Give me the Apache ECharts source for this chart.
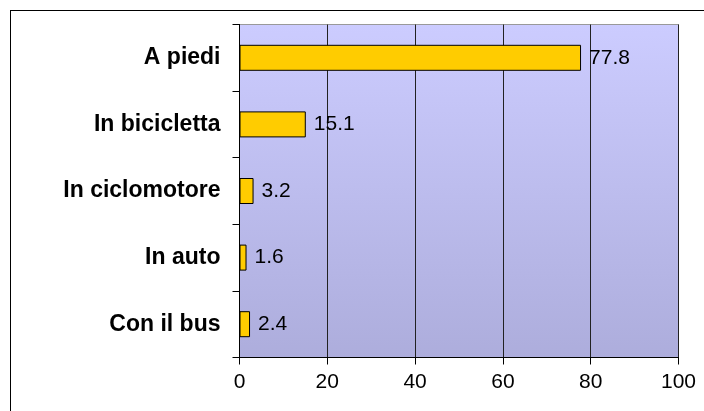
<!DOCTYPE html>
<html>
<head>
<meta charset="utf-8">
<script src="https://cdn.jsdelivr.net/npm/echarts@6/dist/echarts.min.js"></script>
<style>
  html, body { margin: 0; padding: 0; background: #fff; }
  #wrap { position: relative; width: 704px; height: 411px; overflow: hidden; }
  #frame { position: absolute; left: 10px; top: 10px; width: 720px; height: 430px; border: 1px solid #000; box-sizing: border-box; }
  #chart { position: absolute; left: 0; top: 0; width: 704px; height: 411px; }
</style>
</head>
<body>
<div id="wrap">
  <div id="frame"></div>
  <div id="chart"></div>
</div>
<script>
// dati del grafico
var categorie = ['A piedi', 'In bicicletta', 'In ciclomotore', 'In auto', 'Con il bus'];
var valori = [77.8, 15.1, 3.2, 1.6, 2.4];
var xMin = 0, xMax = 100, xStep = 20;

var myChart = echarts.init(document.getElementById('chart'));

var option = {
    animation: false,
    backgroundColor: 'transparent',
    textStyle: { fontFamily: '"Liberation Sans", Arial, sans-serif' },
    grid: {
        left: 239.5,
        top: 24.5,
        right: 25.5,
        bottom: 53.5,
        show: true,
        borderColor: '#999999',
        borderWidth: 1,
        backgroundColor: new echarts.graphic.LinearGradient(0, 0, 0, 1, [
            { offset: 0, color: '#CCCCFF' },
            { offset: 1, color: '#ADADDC' }
        ])
    },
    xAxis: {
        type: 'value',
        min: xMin,
        max: xMax,
        interval: xStep,
        axisLine: { show: true, lineStyle: { color: '#000', width: 1 } },
        axisTick: { show: true, inside: false, length: 7, lineStyle: { color: '#000' } },
        axisLabel: { color: '#000', fontSize: 21, margin: 14 },
        splitLine: { show: true, lineStyle: { color: '#222', width: 1 } }
    },
    yAxis: {
        type: 'category',
        inverse: true,
        data: categorie,
        axisLine: { show: true, lineStyle: { color: '#000', width: 1 } },
        axisTick: { show: true, inside: false, length: 7, lineStyle: { color: '#000' } },
        axisLabel: { color: '#000', fontSize: 23, fontWeight: 'bold', margin: 19 },
        splitLine: { show: false }
    },
    series: [{
        type: 'bar',
        data: valori,
        barWidth: 26,
        itemStyle: {
            color: '#FFCC00',
            borderColor: '#000',
            borderWidth: 1
        },
        label: {
            show: true,
            position: 'right',
            distance: 8,
            color: '#000',
            fontSize: 21
        }
    }]
};

myChart.setOption(option);
</script>
</body>
</html>
